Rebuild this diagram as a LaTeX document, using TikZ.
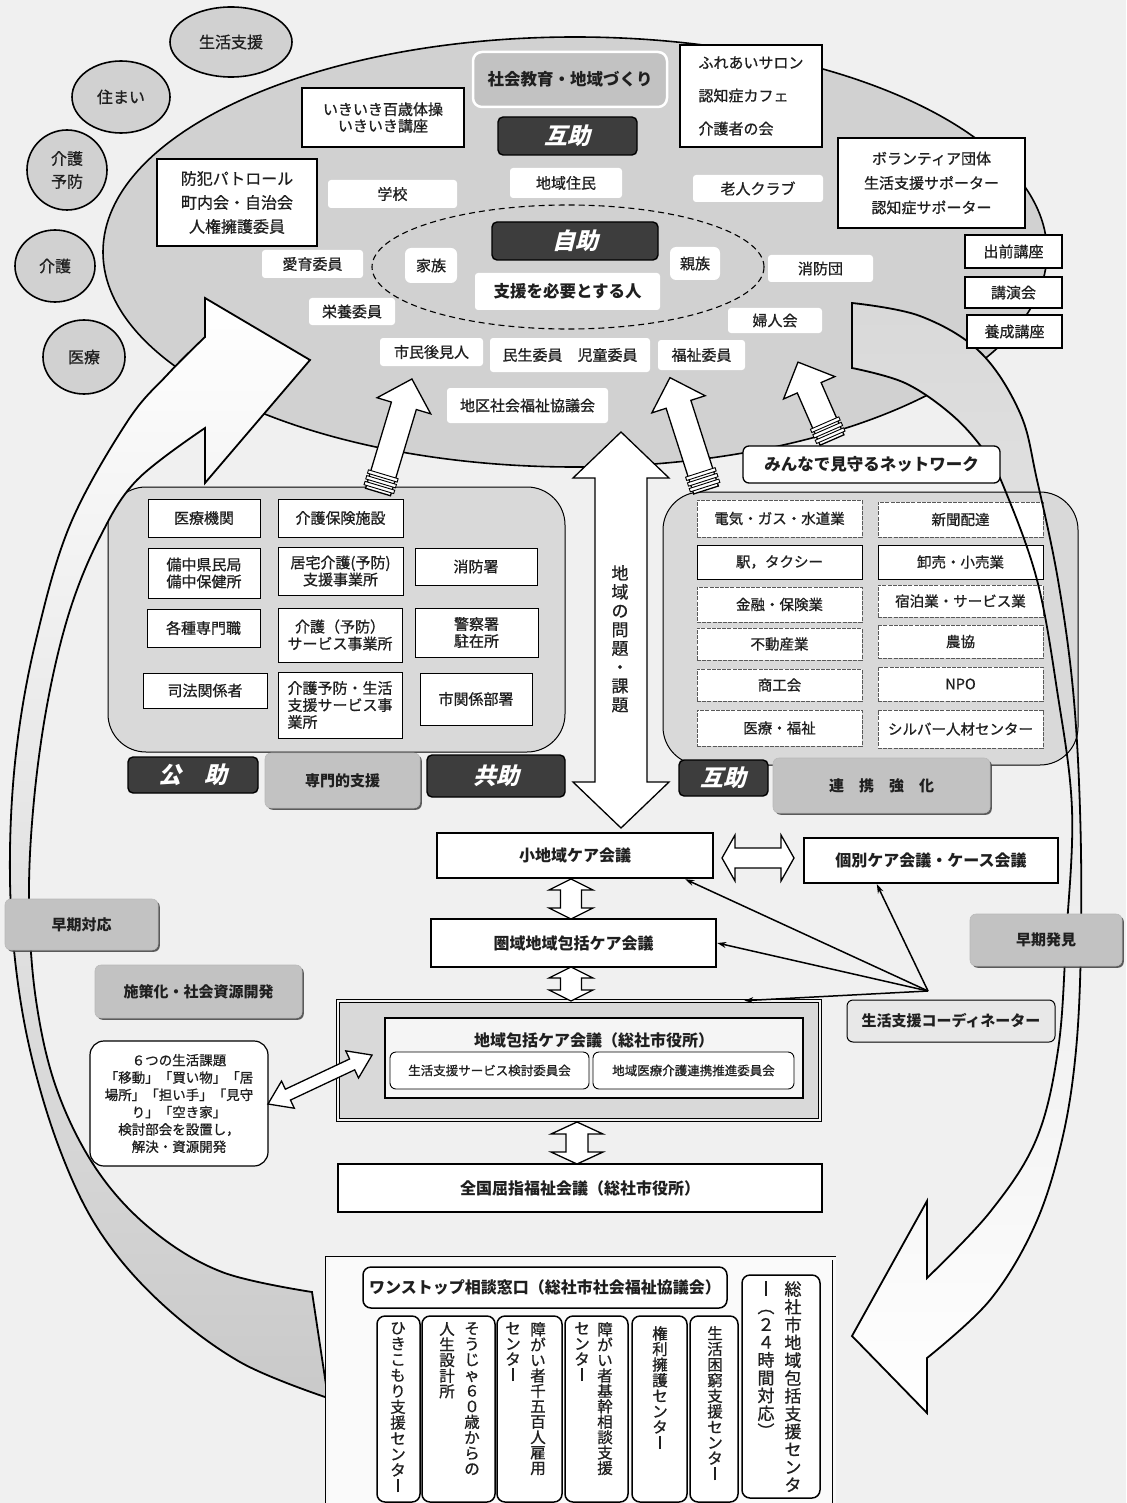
\documentclass[tikz,border=0pt]{standalone}
\usepackage{fontspec}
\usepackage{graphicx}
\setmainfont{Noto Sans CJK JP}[UprightFeatures={FakeBold=0.8}]
\newfontfamily\slfont{Noto Sans CJK JP}[FakeSlant=0.25, BoldFeatures={FakeSlant=0.25}]
\usetikzlibrary{shapes.geometric,arrows.meta,calc,shadows}
\definecolor{bgc}{gray}{0.94}
\definecolor{ellc}{gray}{0.82}
\definecolor{regc}{gray}{0.85}
\definecolor{glabc}{gray}{0.76}
\definecolor{darkc}{gray}{0.24}
\definecolor{txtc}{gray}{0.12}
\newcommand\fsz[2]{\fontsize{#1pt}{#2pt}\selectfont}
\newcommand\tbar{\rule[-0.04em]{0.085em}{0.86em}}
\newcommand\tlp{\rotatebox[origin=c]{-90}{（}}
\newcommand\trp{\rotatebox[origin=c]{-90}{）}}
\makeatletter
\newcommand\tate[2]{\vbox{\baselineskip=#1pt\lineskiplimit=-\maxdimen\lineskip=0pt\relax\@tfor\tate@c:=#2\do{\hbox to 1.05em{\hss\tate@c\hss}}}}
\makeatother
\newcommand\bx[7]{\node[#2, minimum width={(#5-#3)*1pt}, minimum height={(#6-#4)*1pt}, inner sep=0pt] (#1) at ({(#3+#5)/2},{(#4+#6)/2}) {#7};}
\newcommand\dblarr[6]{\begin{scope}[shift={#1}, rotate=#2]
\draw[hollow] (0,0) -- (#6,#5) -- (#6,#4) -- ({#3-#6},#4) -- ({#3-#6},#5) -- (#3,0) -- ({#3-#6},-#5) -- ({#3-#6},-#4) -- (#6,-#4) -- (#6,-#5) -- cycle;
\end{scope}}
\newcommand\uparr[3]{\begin{scope}[shift={#1}, rotate=#2]
\draw[hollow] (0,-13) -- ({#3-28},-13) -- ({#3-28},-28) -- (#3,0) -- ({#3-28},28) -- ({#3-28},13) -- (0,13) -- cycle;
\foreach \d in {3,9,15} {\draw[line width=0.9pt, fill=white] (\d,-15.5) rectangle (\d+3.5,15.5);}
\end{scope}}
\def\lband{plot[smooth, tension=0.6] coordinates {(328,1398) (240,1362) (160,1302) (100,1232) (60,1150) (30,1050) (14,950) (10,850) (17,745) (36,640) (70,525) (127,422) (168,374) (205,337)} -- (205,298) -- (310,360) -- (205,483) -- (205,428) -- plot[smooth, tension=0.6] coordinates {(205,428) (137,480) (100,537) (70,610) (48,700) (34,800) (29,900) (36,1000) (57,1090) (97,1170) (152,1230) (222,1272) (312,1292)} -- cycle}
\def\rband{plot[smooth, tension=0.6] coordinates {(852,303) (920,316) (980,352) (1020,413) (1037,480) (1058,580) (1073,690) (1080,810) (1081,940) (1076,1050) (1062,1140) (1035,1225) (990,1300) (927,1358)} -- (927,1413) -- (852,1336) -- (927,1201) -- (927,1278) -- plot[smooth, tension=0.6] coordinates {(927,1278) (990,1212) (1036,1140) (1058,1050) (1066,940) (1072,810) (1057,690) (1037,580) (1005,490) (985,452) (952,415) (905,383) (852,368)} -- cycle}
\begin{document}
\begin{tikzpicture}[x=1pt, y=-1pt,
 wb/.style={fill=white, rounded corners=3pt, align=center, text=txtc, font=\fsz{15}{17}},
 tb/.style={fill=white, draw=black, line width=2.4pt, align=center, text=txtc, font=\fsz{16}{18}\bfseries},
 mb/.style={fill=white, draw=black, line width=1.5pt, align=center, text=txtc, font=\fsz{15}{17}},
 rb/.style={fill=white, draw=black, line width=1pt, align=center, text=txtc, font=\fsz{15}{17}},
 rbd/.style={fill=white, draw=black!65, line width=0.7pt, dash pattern=on 4pt off 1.2pt, align=center, text=txtc, font=\fsz{14.5}{17}},
 dk/.style={fill=darkc, draw=black, line width=1.4pt, rounded corners=5pt, text=white, font=\fsz{23}{24}\slfont\bfseries},
 gl/.style={fill=glabc, draw=gray!55, line width=0.6pt, rounded corners=6pt, drop shadow={shadow xshift=1.8pt, shadow yshift=-1.8pt, fill=black!75, opacity=0.85}, align=center, text=txtc, font=\fsz{15}{17}\bfseries},
 gl2/.style={fill=glabc, draw=white, line width=2.5pt, rounded corners=9pt, text=txtc, font=\fsz{16.5}{18}\bfseries},
 circ/.style={ellipse, draw=black, line width=1.6pt, fill=ellc, inner sep=0pt, align=center, text=txtc, font=\fsz{16}{23}},
 region/.style={draw=black, line width=1pt, fill=regc, rounded corners=38pt},
 hollow/.style={fill=white, draw=black, line width=1.3pt, line join=miter},
 vb/.style={draw=black, line width=1.5pt, fill=white, rounded corners=8pt},
 conn/.style={-{Stealth[length=9pt,width=6pt]}, line width=1.5pt},
 tt/.style={anchor=north, inner sep=0pt, text=txtc, font=\fsz{15.5}{16}},
]
\useasboundingbox (0,0) rectangle (1126,1503);
\fill[bgc] (0,0) rectangle (1126,1503);

% big ellipse
\draw[fill=ellc, line width=1.6pt] (575,252) ellipse [x radius=472pt, y radius=215pt];

% circles
\node[circ, minimum width=122pt, minimum height=70pt] (c1) at (231,42) {生活支援};
\node[circ, minimum width=98pt, minimum height=72pt] (c2) at (121,97) {住まい};
\node[circ, minimum width=80pt, minimum height=80pt] (c3) at (67,170) {介護\\予防};
\node[circ, minimum width=80pt, minimum height=72pt] (c4) at (55,266) {介護};
\node[circ, minimum width=82pt, minimum height=74pt] (c5) at (84,357) {医療};

% right band fill
\shade[top color=gray!30, bottom color=white] \rband;

% regions
\bx{kouregion}{region}{108}{487}{565}{752}{}
\bx{gojoregion}{region}{663}{492}{1078}{765}{}

\bx{iryou}{rb}{148}{499}{260}{537}{医療機関}
\bx{kaigohoken}{rb}{278}{499}{403}{537}{介護保険施設}
\bx{bicchu}{rb}{148}{548}{260}{598}{備中県民局\\備中保健所}
\bx{kyotaku}{rb}{278}{547}{403}{595}{居宅介護(予防)\\支援事業所}
\bx{shoubousho}{rb}{415}{548}{537}{585}{消防署}
\bx{senmonshoku}{rb}{147}{609}{260}{647}{各種専門職}
\bx{kaigoyobou}{rb}{278}{608}{402}{662}{介護（予防）\\サービス事業所}
\bx{keisatsu}{rb}{415}{608}{538}{657}{警察署\\駐在所}
\bx{shihou}{rb}{143}{673}{267}{708}{司法関係者}
\bx{sougou}{rb, align=left}{278}{672}{402}{738}{介護予防・生活\\支援サービス事\\業所}
\bx{shikankei}{rb}{420}{673}{532}{725}{市関係部署}
\bx{kouj}{dk}{128}{757}{258}{793}{公　助}
\bx{senmon}{gl}{265}{753}{420}{808}{専門的支援}
\bx{kyouj}{dk}{427}{755}{565}{797}{共助}

\bx{denki}{rbd}{697}{500}{862}{537}{電気・ガス・水道業}
\bx{shinbun}{rbd}{878}{502}{1043}{537}{新聞配達}
\bx{eki}{rb, font=\fsz{14.5}{17}}{697}{545}{862}{579}{駅，タクシー}
\bx{oroshi}{rb, font=\fsz{14.5}{17}}{878}{545}{1043}{579}{卸売・小売業}
\bx{kinyuu}{rbd}{697}{587}{862}{622}{金融・保険業}
\bx{shukuhaku}{rbd}{878}{585}{1043}{617}{宿泊業・サービス業}
\bx{fudousan}{rbd}{697}{628}{862}{660}{不動産業}
\bx{noukyou}{rbd}{878}{625}{1043}{658}{農協}
\bx{shoukou}{rbd}{697}{669}{862}{701}{商工会}
\bx{npo}{rbd}{878}{667}{1043}{701}{NPO}
\bx{iryoufukushi}{rbd}{697}{710}{862}{746}{医療・福祉}
\bx{silver}{rbd}{878}{710}{1043}{748}{シルバー人材センター}
\bx{gojoB}{dk}{679}{760}{768}{796}{互助}
\bx{renkei}{gl}{773}{758}{990}{813}{連　携　強　化}

% left band
\shade[top color=white, bottom color=gray!42] \lband;
\draw[line width=1.8pt, line join=miter] \lband;
\draw[line width=1.8pt, line join=miter] \rband;

% ellipse contents
\draw[line width=1.1pt, dash pattern=on 6pt off 4pt] (568,267) ellipse [x radius=196pt, y radius=62pt];
\bx{ikiiki}{tb, font=\fsz{15}{16.5}}{302}{88}{464}{147}{いきいき百歳体操\\いきいき講座}
\bx{shakai}{gl2}{473}{52}{667}{107}{社会教育・地域づくり}
\bx{gojoA}{dk}{498}{117}{637}{155}{互助}
\bx{fureai}{tb, align=left, font=\fsz{15}{33}}{680}{45}{822}{147}{ふれあいサロン\\認知症カフェ\\介護者の会}
\bx{bouhan}{tb, font=\fsz{16}{24}}{157}{159}{317}{246}{防犯パトロール\\町内会・自治会\\人権擁護委員}
\bx{gakkou}{wb}{328}{180}{457}{208}{学校}
\bx{juumin}{wb}{510}{168}{622}{198}{地域住民}
\bx{roujin}{wb}{693}{175}{823}{202}{老人クラブ}
\bx{vol}{tb, font=\fsz{15}{24.5}}{838}{138}{1025}{228}{ボランティア団体\\生活支援サポーター\\認知症サポーター}
\bx{demae}{mb}{965}{235}{1062}{268}{出前講座}
\bx{kouen}{mb}{965}{277}{1062}{308}{講演会}
\bx{yousei}{mb}{967}{315}{1062}{348}{養成講座}
\bx{jijo}{dk}{492}{222}{658}{260}{自助}
\bx{kazoku}{wb, rounded corners=6pt}{405}{248}{457}{283}{家族}
\bx{shinzoku}{wb, rounded corners=6pt}{670}{247}{720}{280}{親族}
\bx{shien}{wb, font=\fsz{16.5}{18}\bfseries}{475}{273}{660}{310}{支援を必要とする人}
\bx{aiiku}{wb}{262}{250}{363}{278}{愛育委員}
\bx{eiyou}{wb}{309}{298}{395}{325}{栄養委員}
\bx{shoubou}{wb}{768}{255}{873}{282}{消防団}
\bx{fujin}{wb}{728}{308}{822}{333}{婦人会}
\bx{kouken}{wb}{380}{338}{483}{366}{市民後見人}
\bx{minsei}{wb}{490}{338}{650}{372}{民生委員　児童委員}
\bx{fukushi}{wb}{658}{340}{745}{370}{福祉委員}
\bx{chiku}{wb}{447}{388}{608}{423}{地区社会福祉協議会}

% small up arrows
\uparr{(378,492)}{73.3}{118}
\uparr{(706,490)}{107.8}{118}
\uparr{(832,440)}{113.6}{85}

% big double arrow
\dblarr{(621,432)}{-90}{396}{26}{48}{46}
\node[tt, font=\fsz{17}{19}] (mondai) at (620,565) {\tate{18.8}{地域の問題・課題}};

\bx{minna}{rb, rounded corners=6pt, line width=1.3pt, font=\fsz{16.5}{18}\bfseries}{743}{446}{1000}{483}{みんなで見守るネットワーク}

% lower section
\bx{small}{tb}{437}{833}{713}{878}{小地域ケア会議}
\bx{kobetsu}{tb}{804}{838}{1058}{883}{個別ケア会議・ケース会議}
\bx{ken}{tb}{431}{919}{716}{967}{圏域地域包括ケア会議}
\bx{frame}{draw=black, double=gray!10, double distance=2.5pt, line width=0.7pt, fill=gray!30}{338}{1001}{820}{1120}{}
\bx{hkbox}{draw=black, line width=2.2pt, fill=gray!8}{385}{1018}{803}{1098}{}
\node[font=\fsz{16}{18}\bfseries, text=txtc] (hkt) at (594,1040) {地域包括ケア会議（総社市役所）};
\bx{sub1}{draw=black, line width=0.9pt, fill=white, rounded corners=6pt, text=txtc, font=\fsz{12.5}{14}}{390}{1052}{589}{1089}{生活支援サービス検討委員会}
\bx{sub2}{draw=black, line width=0.9pt, fill=white, rounded corners=6pt, text=txtc, font=\fsz{12.5}{14}}{593}{1052}{794}{1089}{地域医療介護連携推進委員会}
\bx{zenkoku}{tb}{338}{1164}{822}{1212}{全国屈指福祉会議（総社市役所）}
\bx{coord}{draw=black, line width=1pt, fill=gray!18, rounded corners=6pt, text=txtc, font=\fsz{15}{17}\bfseries}{847}{1000}{1055}{1042}{生活支援コーディネーター}
\bx{hakken}{gl}{970}{914}{1122}{966}{早期発見}
\bx{taiou}{gl}{5}{899}{158}{950}{早期対応}
\bx{shisaku}{gl}{95}{965}{302}{1018}{施策化・社会資源開発}
\bx{six}{draw=black, line width=1.2pt, fill=white, rounded corners=14pt, align=center, text=txtc, font=\fsz{13.5}{17.3}}{90}{1041}{268}{1166}{６つの生活課題\\「移動」「買い物」「居\\場所」「担い手」「見守\\り」「空き家」\\検討部会を設置し，\\解決・資源開発}

\dblarr{(722,858)}{0}{72}{10}{23}{13}
\dblarr{(571,879)}{-90}{40}{10.5}{22}{11}
\dblarr{(571,967)}{-90}{34}{10.5}{22}{11}
\dblarr{(577,1122)}{-90}{42}{11}{26}{12}
\dblarr{(268,1104)}{25.2}{115}{6}{15}{22}

\coordinate (cp) at (928,991);
\draw[conn] (cp) -- ([xshift=-29pt]small.south east);
\draw[conn] (cp) -- ([xshift=74pt]kobetsu.south west);
\draw[conn] (cp) -- (ken.east);
\draw[conn] (cp) -- ([xshift=-76pt]frame.north east);

% bottom
\bx{bframe}{draw=black, double=gray!6, double distance=3pt, line width=0.8pt, fill=gray!4}{327}{1258}{834}{1515}{}
\bx{onestop}{draw=black, line width=1.5pt, fill=white, rounded corners=8pt, text=txtc, font=\fsz{16}{18}\bfseries}{363}{1267}{727}{1308}{ワンストップ相談窓口（総社市社会福祉協議会）}
\bx{v1}{vb}{377}{1316}{420}{1502}{}
\bx{v2}{vb}{422}{1316}{495}{1502}{}
\bx{v3}{vb}{497}{1316}{562}{1502}{}
\bx{v4}{vb}{565}{1316}{628}{1502}{}
\bx{v5}{vb}{632}{1316}{687}{1502}{}
\bx{v6}{vb}{690}{1316}{738}{1502}{}
\bx{v7}{vb}{742}{1275}{820}{1498}{}
\node[tt] (t1) at (398,1322) {\tate{15.8}{ひきこもり支援センタ{\tbar}}};
\node[tt] (t2a) at (472,1322) {\tate{15.6}{そうじゃ６０歳からの}};
\node[tt] (t2b) at (447,1322) {\tate{15.6}{人生設計所}};
\node[tt] (t3a) at (538,1322) {\tate{15.4}{障がい者千五百人雇用}};
\node[tt] (t3b) at (513,1322) {\tate{15.4}{センタ{\tbar}}};
\node[tt] (t4a) at (605,1322) {\tate{15.4}{障がい者基幹相談支援}};
\node[tt] (t4b) at (582,1322) {\tate{15.4}{センタ{\tbar}}};
\node[tt] (t5) at (660,1326) {\tate{15.6}{権利擁護センタ{\tbar}}};
\node[tt] (t6) at (715,1326) {\tate{15.6}{生活困窮支援センタ{\tbar}}};
\node[tt, font=\fsz{17}{18}] (t7a) at (793,1281) {\tate{17.8}{総社市地域包括支援センタ}};
\node[tt, font=\fsz{17}{18}] (t7b) at (766,1281) {\tate{17.8}{{\tbar}{\tlp}２４時間対応{\trp}}};
\end{tikzpicture}
\end{document}
